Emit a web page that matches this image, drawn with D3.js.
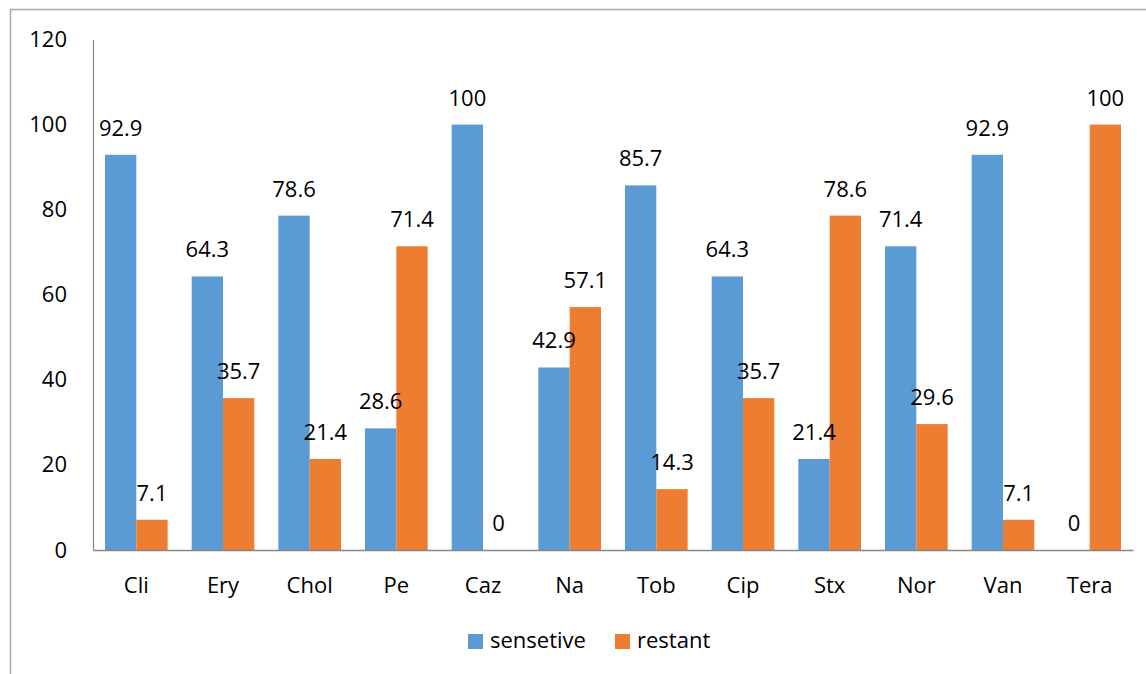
<!DOCTYPE html>
<html>
<head>
<meta charset="utf-8">
<script src="https://cdn.jsdelivr.net/npm/d3@7"></script>
<style>
  html, body { margin: 0; padding: 0; background: #fff; }
  svg { display: block; }
  text { font-family: "Open Sans", "Liberation Sans", sans-serif; fill: #000; }
</style>
</head>
<body>
<svg id="chart" width="1146" height="674"></svg>
<script>
// Antibiotic susceptibility (%) per drug
const categories = ["Cli", "Ery", "Chol", "Pe", "Caz", "Na", "Tob", "Cip", "Stx", "Nor", "Van", "Tera"];
const sensetive = [92.9, 64.3, 78.6, 28.6, 100, 42.9, 85.7, 64.3, 21.4, 71.4, 92.9, 0];
const restant   = [7.1, 35.7, 21.4, 71.4, 0, 57.1, 14.3, 35.7, 78.6, 29.6, 7.1, 100];
const seriesNames = ["sensetive", "restant"];
const yTicks = [0, 20, 40, 60, 80, 100, 120];

const colors = ["#5B9BD5", "#ED7D31"];
const fontSize = 22;
const svg = d3.select("#chart");

// outer chart frame
svg.append("rect")
  .attr("x", 10.5).attr("y", 9.5)
  .attr("width", 1300).attr("height", 800)
  .attr("fill", "none").attr("stroke", "#a6a6a6").attr("stroke-width", 1.5);

const plot = { left: 93, right: 1133, top: 39.5, bottom: 550 };

const x0 = d3.scaleBand()
  .domain(categories)
  .range([plot.left, plot.right])
  .paddingInner(0.277)
  .paddingOuter(0.1385);

const x1 = d3.scaleBand()
  .domain(seriesNames)
  .range([0, x0.bandwidth()]);

const y = d3.scaleLinear()
  .domain([0, 120])
  .range([plot.bottom, plot.top]);

const rows = categories.map((c, i) => ({ cat: c, values: [sensetive[i], restant[i]] }));

// bars
const groups = svg.append("g").selectAll("g")
  .data(rows).join("g")
  .attr("transform", d => `translate(${x0(d.cat)},0)`);

groups.selectAll("rect")
  .data(d => d.values.map((v, k) => ({ v, k })))
  .join("rect")
  .attr("x", d => x1(seriesNames[d.k]))
  .attr("y", d => y(d.v))
  .attr("width", x1.bandwidth())
  .attr("height", d => y(0) - y(d.v))
  .attr("fill", d => colors[d.k]);

// value labels
groups.selectAll("text.val")
  .data(d => d.values.map((v, k) => ({ v, k })))
  .join("text")
  .attr("class", "val")
  .attr("x", d => x1(seriesNames[d.k]) + x1.bandwidth() / 2)
  .attr("y", d => y(d.v) - 19)
  .attr("text-anchor", "middle")
  .attr("font-size", fontSize)
  .text(d => d.v);

// y axis
const yAxis = svg.append("g")
  .attr("transform", `translate(${plot.left},0)`)
  .call(d3.axisLeft(y).tickValues(yTicks).tickSize(0).tickPadding(26).tickFormat(d3.format("d")));
yAxis.select(".domain").attr("stroke", "#868686").attr("stroke-width", 1.2);
yAxis.selectAll("text")
  .attr("font-size", fontSize)
  .attr("font-family", "\"Open Sans\", sans-serif")
  .attr("fill", "#000");

// x axis
const xAxis = svg.append("g")
  .attr("transform", `translate(0,${plot.bottom})`)
  .call(d3.axisBottom(x0).tickSize(0).tickPadding(27).tickSizeOuter(0));
xAxis.select(".domain").attr("stroke", "#868686").attr("stroke-width", 1.5);
xAxis.selectAll("text")
  .attr("font-size", fontSize)
  .attr("font-family", "\"Open Sans\", sans-serif")
  .attr("fill", "#000");

// legend
const legendItems = [
  { name: seriesNames[0], color: colors[0], x: 468 },
  { name: seriesNames[1], color: colors[1], x: 615 }
];
const legend = svg.append("g").selectAll("g")
  .data(legendItems).join("g")
  .attr("transform", d => `translate(${d.x},634)`);
legend.append("rect")
  .attr("width", 15).attr("height", 15)
  .attr("fill", d => d.color);
legend.append("text")
  .attr("x", 22).attr("y", 14)
  .attr("font-size", fontSize)
  .text(d => d.name);
</script>
</body>
</html>
